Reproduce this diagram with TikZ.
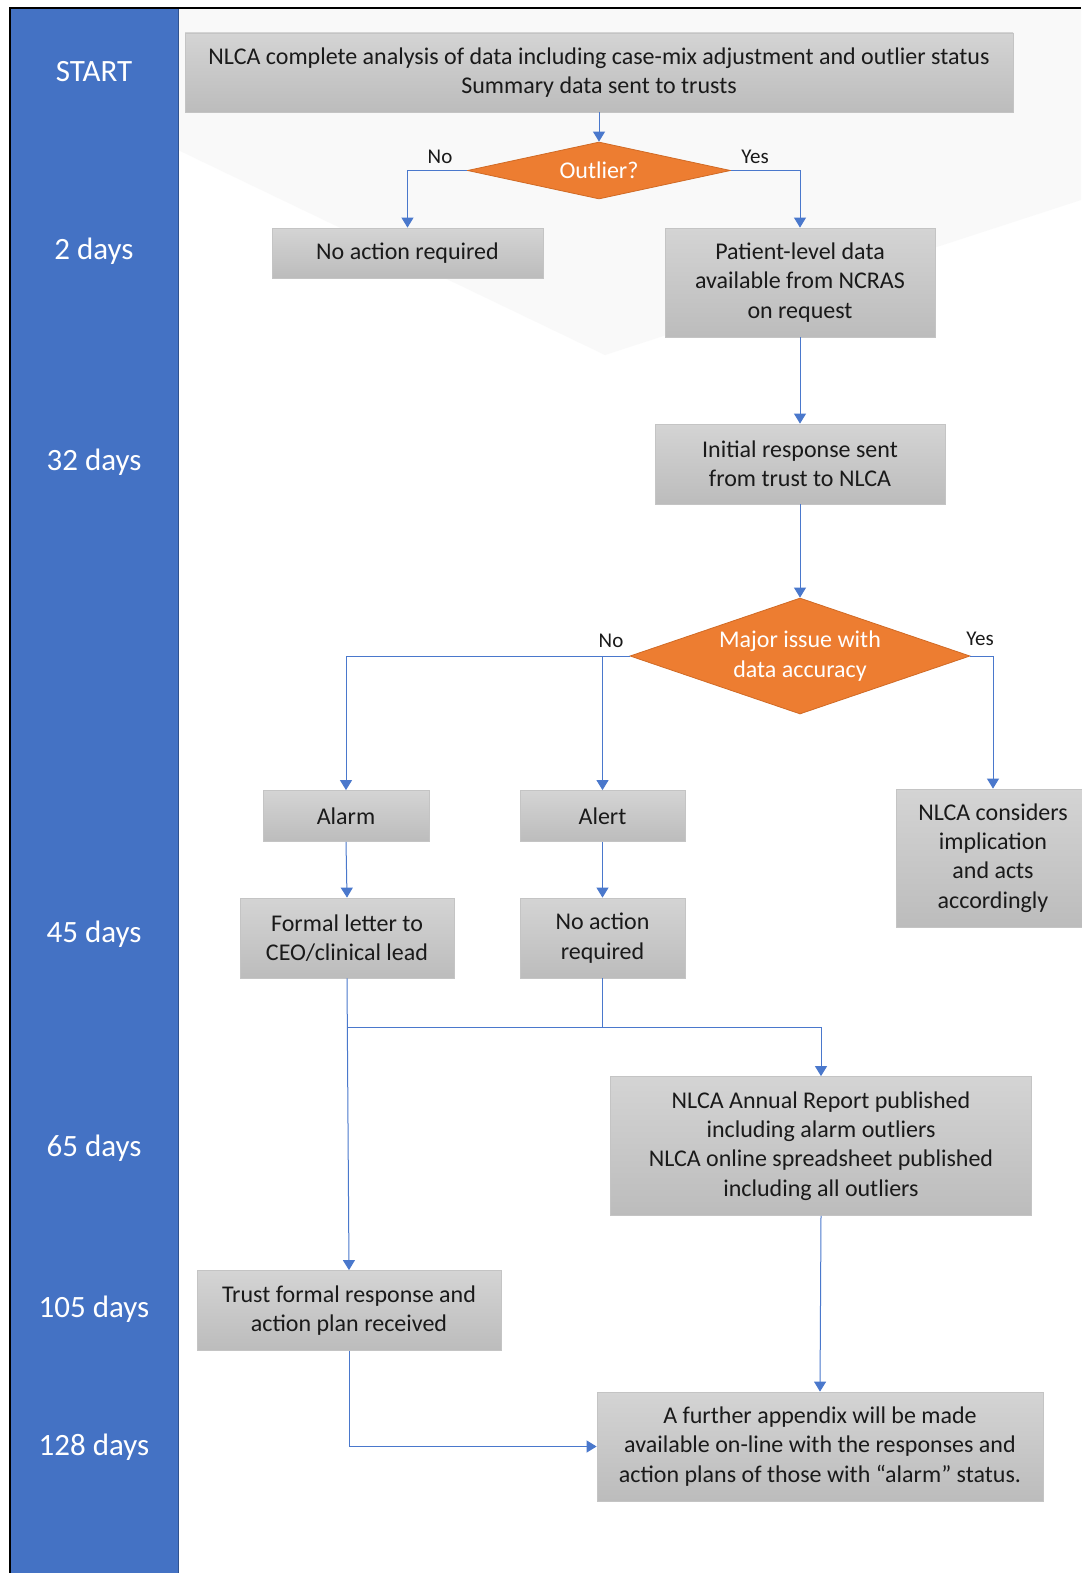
\documentclass[tikz,border=0pt]{standalone}
\usepackage{fontspec}
\setmainfont{Carlito}
\usetikzlibrary{shapes.geometric,arrows.meta}
\definecolor{bblue}{HTML}{4472C4}
\definecolor{bborder}{HTML}{2F528F}
\definecolor{lblue}{HTML}{4A78CC}
\definecolor{orng}{HTML}{ED7D31}
\definecolor{orngb}{HTML}{D06A25}
\definecolor{gtop}{HTML}{D4D4D4}
\definecolor{gbot}{HTML}{BCBCBC}
\definecolor{gbrd}{HTML}{C4C4C4}
\definecolor{txt}{HTML}{1A1A1A}
\definecolor{bgfaint}{HTML}{F9F9F9}
\begin{document}
\begin{tikzpicture}[x=1pt,y=-1pt,
  gbox/.style={draw=gbrd,line width=0.8pt,top color=gtop,bottom color=gbot,align=center,
    inner sep=0pt,text=txt,font={\fontsize{24}{29.3}\selectfont}},
  dec/.style={diamond,draw=orngb,line width=0.8pt,fill=orng,inner sep=0pt,align=center,
    text=white,font={\fontsize{24}{29.3}\selectfont}},
  tlabel/.style={text=white,font={\fontsize{31}{36}\selectfont},inner sep=0pt},
  ylabel/.style={text=txt,font={\fontsize{21}{25}\selectfont},inner sep=0pt},
  arr/.style={draw=lblue,line width=1pt,-{Triangle[width=12pt,length=10pt]}},
  ln/.style={draw=lblue,line width=1pt}]
\useasboundingbox (0,0) rectangle (1081,1573);
% background
\fill[white] (0,0) rectangle (1081,1573);
\fill[bgfaint] (178,9) -- (1081,9) -- (1081,200) -- (605,355) -- (178,150) -- cycle;
\fill[bblue] (11,9) rectangle (178,1573);
\draw[bborder,line width=0.8pt] (178,9) -- (178,1573);
\draw[black,line width=1.6pt] (10,1573) -- (10,8) -- (1081,8);
% time labels
\node[tlabel] (t0) at (94,72) {START};
\node[tlabel] (t1) at (94,251) {2 days};
\node[tlabel] (t2) at (94,462) {32 days};
\node[tlabel] (t3) at (94,934) {45 days};
\node[tlabel] (t4) at (94,1148) {65 days};
\node[tlabel] (t5) at (94,1309) {105 days};
\node[tlabel] (t6) at (94,1447) {128 days};
% nodes
\node[gbox,minimum width=828pt,minimum height=79pt] (top) at (599,72.5)
  {NLCA complete analysis of data including case-mix adjustment and outlier status\\Summary data sent to trusts};
\node[dec,aspect=4.61,minimum width=263pt,minimum height=57pt] (out) at (599,170.5) {Outlier?};
\node[gbox,minimum width=271pt,minimum height=50pt] (na1) at (407.5,253) {No action required};
\node[gbox,minimum width=270pt,minimum height=109pt] (pat) at (800,282.5)
  {Patient-level data\\available from NCRAS\\on request};
\node[gbox,minimum width=290pt,minimum height=80pt] (ini) at (800,464)
  {Initial response sent\\from trust to NLCA};
\node[dec,aspect=2.93,minimum width=340pt,minimum height=116pt] (maj) at (800,656)
  {Major issue with\\data accuracy};
\node[gbox,minimum width=166pt,minimum height=51pt] (alarm) at (346,816) {Alarm};
\node[gbox,minimum width=165pt,minimum height=51pt] (alert) at (602.5,816) {Alert};
\node[gbox,minimum width=194pt,minimum height=138pt] (nlca) at (993,858)
  {NLCA considers\\implication\\and acts\\accordingly};
\node[gbox,minimum width=214pt,minimum height=80pt] (formal) at (347,938)
  {Formal letter to\\CEO/clinical lead};
\node[gbox,minimum width=165pt,minimum height=80pt] (na2) at (602.5,938)
  {No action\\required};
\node[gbox,minimum width=421pt,minimum height=139pt] (ann) at (821,1146)
  {NLCA Annual Report published\\including alarm outliers\\NLCA online spreadsheet published\\including all outliers};
\node[gbox,minimum width=304pt,minimum height=80pt] (trust) at (349,1310.5)
  {Trust formal response and\\action plan received};
\node[gbox,minimum width=446pt,minimum height=109pt] (app) at (820,1446.5)
  {A further appendix will be made\\available on-line with the responses and\\action plans of those with \textquotedblleft alarm\textquotedblright\ status.};
% labels
\node[ylabel] (lno1) at (440,157) {No};
\node[ylabel] (lyes1) at (755,157) {Yes};
\node[ylabel] (lno2) at (611,641) {No};
\node[ylabel] (lyes2) at (980,639) {Yes};
% connectors
\coordinate (jy) at (0,1027);
\draw[arr] (top.south) -- (out.north);
\draw[arr] (out.west) -| (na1.north);
\draw[arr] (out.east) -| (pat.north);
\draw[arr] (pat.south) -- (ini.north);
\draw[arr] (ini.south) -- (maj.north);
\draw[arr] (maj.west) -| (alarm.north);
\draw[arr] (maj.west -| alert.north) -- (alert.north);
\draw[arr] (maj.east) -| (nlca.north);
\draw[arr] (alarm.south) -- (formal.north);
\draw[arr] (alert.south) -- (na2.north);
\draw[arr] (formal.south) -- (trust.north);
\draw[ln] (na2.south) -- (na2.south |- jy);
\draw[arr] (formal.south |- jy) -| (ann.north);
\draw[arr] (ann.south) -- (app.north);
\draw[arr] (trust.south) |- (app.west);
\end{tikzpicture}
\end{document}
